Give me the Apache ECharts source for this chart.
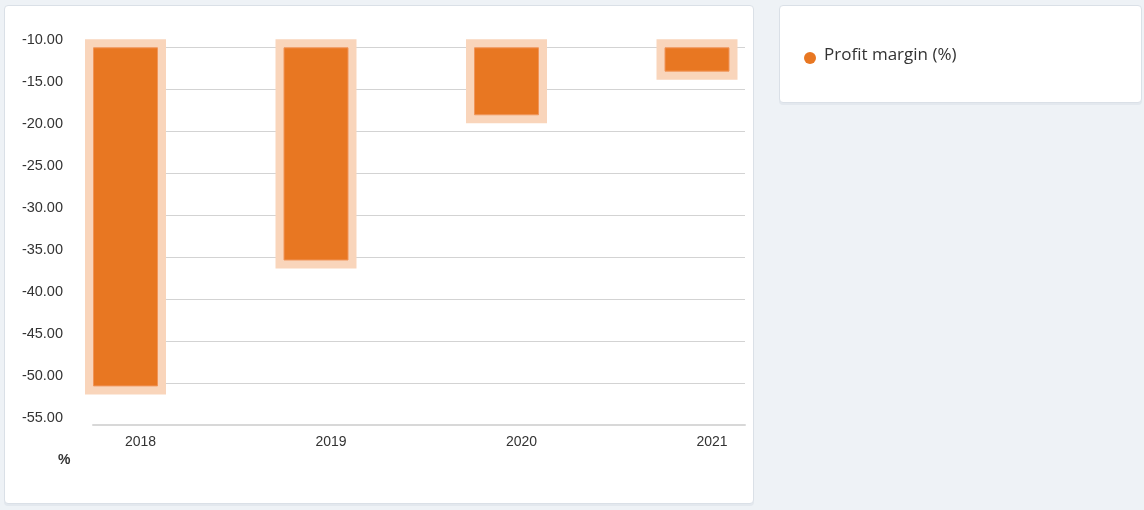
<!DOCTYPE html>
<html>
<head>
<meta charset="utf-8">
<script src="https://cdn.jsdelivr.net/npm/echarts@6/dist/echarts.min.js"></script>
<style>
  html, body { margin: 0; padding: 0; width: 1144px; height: 510px; background: #eef2f6; overflow: hidden; }
  .card { position: absolute; background: #ffffff; border: 1px solid #dae0e7; border-radius: 4px; box-sizing: border-box; box-shadow: 0 2px 0 #e3e8ee; }
  #chart { position: absolute; left: 0; top: 0; width: 1144px; height: 510px; }
</style>
</head>
<body>
<div class="card" style="left:4px; top:5px; width:750px; height:499px;"></div>
<div class="card" style="left:779px; top:5px; width:363px; height:98px;"></div>
<div id="chart"></div>
<script>
// ---- data ----
const years = ['2018', '2019', '2020', '2021'];
const profitMargin = [-50.4, -35.4, -18.1, -12.9];
const seriesName = 'Profit margin (%)';
const yMin = -55, yMax = -10, yStep = 5;
const unitLabel = '%';

const chart = echarts.init(document.getElementById('chart'), null, { renderer: 'canvas' });
const font = "'Liberation Sans', Arial, sans-serif";
const orange = '#e87722';
const halo = '#f9d5bb';

const option = {
  backgroundColor: 'transparent',
  animation: false,
  title: {
    text: unitLabel,
    left: 53, top: 448,
    textStyle: { fontFamily: font, fontSize: 14, fontWeight: 'bold', color: '#333' }
  },
  legend: {
    data: [{ name: seriesName, icon: 'circle' }],
    left: 804, top: 47, padding: 0,
    itemWidth: 14, itemHeight: 12,
    formatter: '{t|{name}}',
    textStyle: {
      fontFamily: "'Open Sans', sans-serif", fontSize: 17, color: '#333',
      rich: { t: { fontFamily: "'Open Sans', sans-serif", fontSize: 17, color: '#333', padding: [0, 0, 5, 2] } }
    }
  },
  grid: [
    { left: 93, right: 399, top: 47.3, bottom: 85 },
    { left: 30.25, right: 351.75, top: 47.3, bottom: 85 }
  ],
  xAxis: [
    {
      type: 'category', gridIndex: 0, data: years,
      axisLine: { show: true, lineStyle: { color: '#d8d8d8', width: 2 } },
      axisTick: { show: false }, axisLabel: { show: false }, splitLine: { show: false }
    },
    {
      type: 'category', gridIndex: 1, data: years,
      axisLine: { show: false }, axisTick: { show: false },
      axisLabel: { fontFamily: font, fontSize: 14, color: '#333', margin: 10, padding: [0, 0, 0, 30] },
      splitLine: { show: false }
    }
  ],
  yAxis: [
    {
      type: 'value', gridIndex: 0, min: yMin, max: yMax, interval: yStep,
      axisLine: { show: false }, axisTick: { show: false },
      axisLabel: {
        fontFamily: font, fontSize: 14.5, color: '#333', margin: 30,
        verticalAlign: 'bottom', lineHeight: 15, padding: [0, 0, 0, 0],
        formatter: v => v.toFixed(2)
      },
      splitLine: { show: true, lineStyle: { color: '#d3d3d3', width: 1 } }
    },
    {
      type: 'value', gridIndex: 1, min: yMin, max: yMax, interval: yStep,
      show: false, splitLine: { show: false }
    }
  ],
  series: [{
    name: seriesName,
    type: 'custom',
    xAxisIndex: 1, yAxisIndex: 1,
    clip: false,
    itemStyle: { color: orange },
    encode: { x: 0, y: 1 },
    data: profitMargin.map((v, i) => [i, v]),
    renderItem: function (params, api) {
      const xi = api.value(0);
      const v = api.value(1);
      const top = api.coord([xi, yMax]);
      const bot = api.coord([xi, v]);
      const w = 65, h = 8;
      return {
        type: 'group',
        children: [
          { type: 'rect', shape: { x: top[0] - w / 2 - h, y: top[1] - h, width: w + 2 * h, height: bot[1] - top[1] + 2 * h },
            style: { fill: halo } },
          { type: 'rect', shape: { x: top[0] - w / 2 + 0.5, y: top[1] + 0.5, width: w - 1, height: bot[1] - top[1] - 1 },
            style: { fill: orange, stroke: '#f0955a', lineWidth: 1 } }
        ]
      };
    }
  }]
};
chart.setOption(option);
</script>
</body>
</html>
